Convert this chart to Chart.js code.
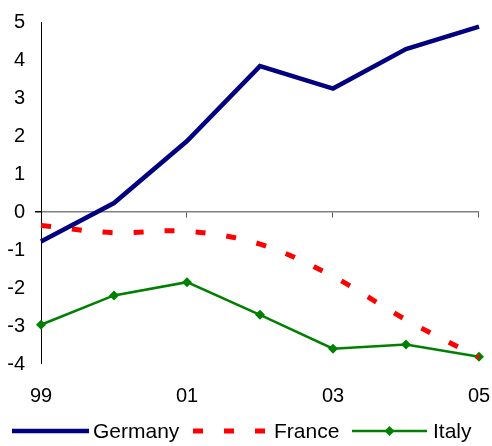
<!DOCTYPE html>
<html>
<head>
<meta charset="utf-8">
<script src="https://cdn.jsdelivr.net/npm/chart.js@4.4.1/dist/chart.umd.min.js"></script>
<style>
  html, body { margin: 0; padding: 0; background: #fff; }
  #wrap { width: 492px; height: 446px; }
</style>
</head>
<body>
<div id="wrap"><canvas id="c" width="492" height="446"></canvas></div>
<script>
// Years (two-digit) along the horizontal axis
const years = ['99', '00', '01', '02', '03', '04', '05'];
// Only every other year is labelled
const labelledYears = ['99', '01', '03', '05'];

const germany = [-0.77, 0.24, 1.87, 3.84, 3.25, 4.29, 4.88];
const france  = [-0.35, -0.54, -0.50, -0.84, -1.69, -2.83, -3.82];
const italy   = [-2.96, -2.19, -1.84, -2.70, -3.59, -3.48, -3.80];

const FAMILY = 'Arial, "Liberation Sans", sans-serif';
const TICK_FONT = { family: FAMILY, size: 20 };
const LEGEND_FONT_SIZE = 21;

// Small tick marks hanging from the zero line at the labelled years
const zeroLineTicks = {
  id: 'zeroLineTicks',
  afterDatasetsDraw(chart) {
    const { ctx, scales: { x, y } } = chart;
    const y0 = Math.round(y.getPixelForValue(0)) + 0.5;
    ctx.save();
    ctx.strokeStyle = '#555';
    ctx.lineWidth = 1;
    years.forEach((yr, i) => {
      if (!labelledYears.includes(yr) || i === 0) return;
      const px = Math.round(x.getPixelForValue(i)) - 0.5;
      ctx.beginPath();
      ctx.moveTo(px, y0);
      ctx.lineTo(px, y0 + 5);
      ctx.stroke();
    });
    ctx.restore();
  }
};

// Legend row along the bottom, drawn from each dataset's own styling
const bottomLegend = {
  id: 'bottomLegend',
  afterDraw(chart) {
    const { ctx } = chart;
    const cy = 431;
    const items = [
      { ds: chart.data.datasets[0], x0: 12, x1: 89, tx: 93 },
      { ds: chart.data.datasets[1], x0: 193, x1: 266, tx: 274 },
      { ds: chart.data.datasets[2], x0: 352, x1: 427, tx: 433 }
    ];
    ctx.save();
    items.forEach(it => {
      const ds = it.ds;
      ctx.beginPath();
      ctx.strokeStyle = ds.borderColor;
      ctx.lineWidth = ds.borderWidth;
      ctx.lineCap = 'butt';
      ctx.setLineDash(ds.borderDash || []);
      ctx.moveTo(it.x0, cy);
      ctx.lineTo(it.x1, cy);
      ctx.stroke();
      ctx.setLineDash([]);
      if (ds.pointStyle === 'rectRot' && ds.pointRadius > 0) {
        const r = ds.pointRadius;
        const cx = (it.x0 + it.x1) / 2;
        ctx.beginPath();
        ctx.fillStyle = ds.pointBackgroundColor;
        ctx.moveTo(cx, cy - r);
        ctx.lineTo(cx + r, cy);
        ctx.lineTo(cx, cy + r);
        ctx.lineTo(cx - r, cy);
        ctx.closePath();
        ctx.fill();
      }
      ctx.fillStyle = '#000';
      ctx.font = LEGEND_FONT_SIZE + 'px ' + FAMILY;
      ctx.textBaseline = 'middle';
      ctx.textAlign = 'left';
      ctx.fillText(ds.label, it.tx, cy + 1);
    });
    ctx.restore();
  }
};

new Chart(document.getElementById('c'), {
  type: 'line',
  data: {
    labels: years,
    datasets: [
      {
        label: 'Germany',
        data: germany,
        borderColor: '#000080',
        backgroundColor: '#000080',
        borderWidth: 4.5,
        pointRadius: 0,
        tension: 0
      },
      {
        label: 'France',
        data: france,
        borderColor: '#FF0000',
        backgroundColor: '#FF0000',
        borderWidth: 5,
        borderDash: [10, 21],
        borderCapStyle: 'butt',
        pointRadius: 0,
        tension: 0.35
      },
      {
        label: 'Italy',
        data: italy,
        borderColor: '#008000',
        backgroundColor: '#008000',
        borderWidth: 2.5,
        pointStyle: 'rectRot',
        pointRadius: 5,
        pointBackgroundColor: '#008000',
        pointBorderColor: '#008000',
        pointBorderWidth: 0,
        tension: 0
      }
    ]
  },
  options: {
    responsive: false,
    animation: false,
    layout: { padding: { left: 0, right: 13, top: 17.7, bottom: 0 } },
    plugins: {
      legend: { display: false },
      tooltip: { enabled: false }
    },
    scales: {
      x: {
        offset: false,
        border: { display: false },
        grid: { display: false },
        afterFit(scale) {
          scale.height = 446 - 364.3;
          scale.paddingLeft = 0;
          scale.paddingRight = 0;
        },
        ticks: {
          color: '#000',
          font: TICK_FONT,
          padding: 12,
          autoSkip: false,
          maxRotation: 0,
          callback(value, index) {
            const lbl = years[index];
            return labelledYears.includes(lbl) ? lbl : '';
          }
        }
      },
      y: {
        min: -4,
        max: 5,
        border: { display: true, color: '#000', width: 1 },
        grid: {
          drawOnChartArea: true,
          drawTicks: true,
          tickLength: 6,
          tickColor: '#000',
          color: ctx => (ctx.tick && ctx.tick.value === 0 ? '#808080' : 'rgba(0,0,0,0)'),
          lineWidth: ctx => (ctx.tick && ctx.tick.value === 0 ? 1.5 : 0)
        },
        afterFit(scale) { scale.width = 41; },
        ticks: {
          stepSize: 1,
          color: '#000',
          font: TICK_FONT,
          padding: 10
        }
      }
    }
  },
  plugins: [zeroLineTicks, bottomLegend]
});
</script>
</body>
</html>
